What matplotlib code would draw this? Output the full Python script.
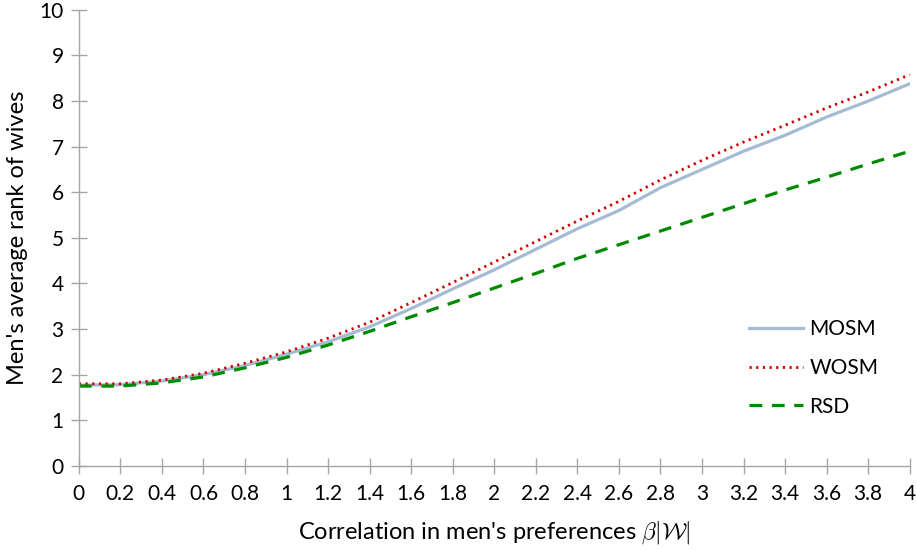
import matplotlib
matplotlib.use("Agg")
import matplotlib.pyplot as plt

plt.rcParams['font.family'] = ['Lato', 'DejaVu Sans']
plt.rcParams['mathtext.fontset'] = 'cm'

# correlation values on the x axis
beta = [0.0, 0.2, 0.4, 0.6, 0.8, 1.0, 1.2, 1.4, 1.6, 1.8, 2.0,
        2.2, 2.4, 2.6, 2.8, 3.0, 3.2, 3.4, 3.6, 3.8, 4.0]

mosm = [1.77, 1.78, 1.86, 2.00, 2.20, 2.45, 2.72, 3.05, 3.45, 3.88, 4.30,
        4.75, 5.20, 5.60, 6.10, 6.50, 6.90, 7.25, 7.65, 8.00, 8.38]
wosm = [1.80, 1.80, 1.88, 2.03, 2.25, 2.50, 2.80, 3.15, 3.58, 4.02, 4.47,
        4.92, 5.37, 5.80, 6.27, 6.70, 7.10, 7.47, 7.85, 8.20, 8.58]
rsd = [1.75, 1.75, 1.82, 1.95, 2.15, 2.38, 2.65, 2.95, 3.27, 3.58, 3.90,
       4.22, 4.55, 4.85, 5.15, 5.45, 5.75, 6.05, 6.33, 6.62, 6.90]

xtick_labels = ['0', '0.2', '0.4', '0.6', '0.8', '1', '1.2', '1.4', '1.6', '1.8', '2',
                '2.2', '2.4', '2.6', '2.8', '3', '3.2', '3.4', '3.6', '3.8', '4']

fig = plt.figure(figsize=(9.17, 5.5), dpi=100)
ax = fig.add_axes([0.086, 0.153, 0.906, 0.829])

ax.plot(beta, mosm, color='#a3bcd3', lw=2.3, label='MOSM')
ax.plot(beta, wosm, color='#d00000', lw=2.0, ls=(0, (0.8, 1.6)), label='WOSM')
ax.plot(beta, rsd, color='#008a00', lw=2.3, ls=(0, (4, 3)), label='RSD')

ax.set_xlim(0, 4)
ax.set_ylim(0, 10)
ax.set_xticks(beta)
ax.set_xticklabels(xtick_labels)
ax.set_yticks(range(0, 11))

for s in ['top', 'right']:
    ax.spines[s].set_visible(False)
for s in ['left', 'bottom']:
    ax.spines[s].set_color('#a6a6a6')
    ax.spines[s].set_linewidth(1.0)
ax.tick_params(direction='inout', length=12, width=1.0, color='#a6a6a6',
               labelsize=15)
ax.tick_params(axis='x', pad=7)
ax.tick_params(axis='y', pad=5)

ax.set_xlabel(r"Correlation in men's preferences $\beta|\mathcal{W}|$", fontsize=17, labelpad=11)
ax.set_ylabel("Men's average rank of wives", fontsize=17, labelpad=8)

ax.legend(loc='center right', bbox_to_anchor=(0.985, 0.215), frameon=False,
          fontsize=15, handlelength=2.6, labelspacing=0.9, handletextpad=0.3)

plt.savefig('out.png', dpi=100)
